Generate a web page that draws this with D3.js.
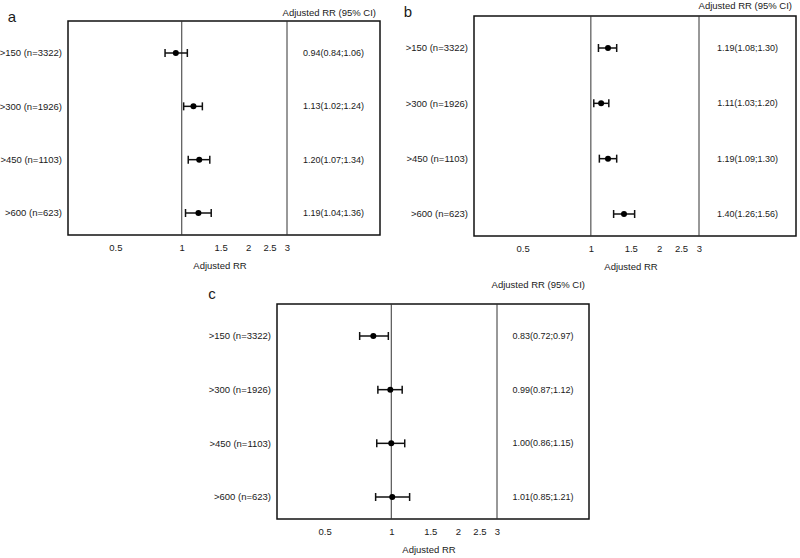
<!DOCTYPE html>
<html>
<head>
<meta charset="utf-8">
<script src="https://cdn.jsdelivr.net/npm/d3@7"></script>
<style>
  body { margin: 0; background: #fff; }
  text { font-family: "Liberation Sans", Arial, sans-serif; fill: #1a1a1a; }
</style>
</head>
<body>
<div id="chart"></div>
<script>
// data
const groups = ['>150 (n=3322)', '>300 (n=1926)', '>450 (n=1103)', '>600 (n=623)'];
const rrA = [0.94, 1.13, 1.20, 1.19];
const lowA = [0.84, 1.02, 1.07, 1.04];
const highA = [1.06, 1.24, 1.34, 1.36];
const rrB = [1.19, 1.11, 1.19, 1.40];
const lowB = [1.08, 1.03, 1.09, 1.26];
const highB = [1.30, 1.20, 1.30, 1.56];
const rrC = [0.83, 0.99, 1.00, 1.01];
const lowC = [0.72, 0.87, 0.86, 0.85];
const highC = [0.97, 1.12, 1.15, 1.21];
const tickValues = [0.5, 1, 1.5, 2, 2.5, 3];
const xMin = 0.305, xMax = 3;

// panel layout (pixels)
const panels = [
	{name: 'a', rr: rrA, low: lowA, high: highA, left: 68, x3: 287, right: 380, top: 21, bottom: 235, headY: 13, labelX: 12, labelY: 17},
	{name: 'b', rr: rrB, low: lowB, high: highB, left: 474, x3: 699, right: 796, top: 16, bottom: 236, headY: 6, labelX: 408, labelY: 12},
	{name: 'c', rr: rrC, low: lowC, high: highC, left: 277, x3: 497, right: 589, top: 304, bottom: 519, headY: 285, labelX: 212, labelY: 294}
];

const width = 800, height = 558;
const fmt = d3.format('.2f');

const svg = d3.select('#chart').append('svg')
	.attr('width', width)
	.attr('height', height);

panels.forEach(p => drawPanel(p));

function drawPanel(p) {
	const g = svg.append('g').attr('class', 'panel-' + p.name);

	const x = d3.scaleLog()
		.domain([xMin, xMax])
		.range([p.left, p.x3]);
	const y = d3.scalePoint()
		.domain(groups)
		.range([p.top + 32, p.bottom - 22]);

	const rows = groups.map((grp, i) => ({grp, rr: p.rr[i], low: p.low[i], high: p.high[i]}));

	// frame
	g.append('rect')
		.attr('x', p.left)
		.attr('y', p.top)
		.attr('width', p.right - p.left)
		.attr('height', p.bottom - p.top)
		.attr('fill', 'none')
		.attr('stroke', '#111')
		.attr('stroke-width', 1.5);

	// reference line at 1 and separator at 3
	g.selectAll('.vline')
		.data([1, 3])
		.enter().append('line')
			.attr('class', 'vline')
			.attr('x1', d => x(d))
			.attr('x2', d => x(d))
			.attr('y1', p.top)
			.attr('y2', p.bottom)
			.attr('stroke', '#333')
			.attr('stroke-width', 1);

	// axis
	const axis = d3.axisBottom(x)
		.tickValues(tickValues)
		.tickFormat(d => d)
		.tickSize(0)
		.tickPadding(9);
	const ax = g.append('g')
		.attr('transform', `translate(0,${p.bottom})`)
		.call(axis);
	ax.select('.domain').remove();
	ax.selectAll('text')
		.attr('font-size', '9.5px')
		.attr('fill', '#1a1a1a')
		.style('font-family', '"Liberation Sans", Arial, sans-serif');

	g.append('text')
		.attr('x', (p.left + p.right) / 2 - 4)
		.attr('y', p.bottom + 34)
		.attr('text-anchor', 'middle')
		.attr('font-size', '9.5px')
		.text('Adjusted RR');

	// header
	g.append('text')
		.attr('x', p.right - 4)
		.attr('y', p.headY)
		.attr('dy', '0.35em')
		.attr('text-anchor', 'end')
		.attr('font-size', '9.5px')
		.text('Adjusted RR (95% CI)');

	// panel letter
	g.append('text')
		.attr('x', p.labelX)
		.attr('y', p.labelY)
		.attr('dy', '0.35em')
		.attr('text-anchor', 'middle')
		.attr('font-size', '15px')
		.text(p.name);

	// row labels
	g.selectAll('.row-label')
		.data(rows)
		.enter().append('text')
			.attr('class', 'row-label')
			.attr('x', p.left - 6)
			.attr('y', d => y(d.grp))
			.attr('dy', '0.35em')
			.attr('text-anchor', 'end')
			.attr('font-size', '9.5px')
			.text(d => d.grp);

	// CI bars
	const ci = g.selectAll('.ci')
		.data(rows)
		.enter().append('g')
			.attr('class', 'ci')
			.attr('stroke', '#111')
			.attr('stroke-width', 1.5);
	ci.append('line')
		.attr('x1', d => x(d.low))
		.attr('x2', d => x(d.high))
		.attr('y1', d => y(d.grp))
		.attr('y2', d => y(d.grp));
	ci.append('line')
		.attr('x1', d => x(d.low))
		.attr('x2', d => x(d.low))
		.attr('y1', d => y(d.grp) - 4)
		.attr('y2', d => y(d.grp) + 4);
	ci.append('line')
		.attr('x1', d => x(d.high))
		.attr('x2', d => x(d.high))
		.attr('y1', d => y(d.grp) - 4)
		.attr('y2', d => y(d.grp) + 4);

	// points
	g.selectAll('.pt')
		.data(rows)
		.enter().append('circle')
			.attr('class', 'pt')
			.attr('cx', d => x(d.rr))
			.attr('cy', d => y(d.grp))
			.attr('r', 3)
			.attr('fill', '#000');

	// values column
	g.selectAll('.val')
		.data(rows)
		.enter().append('text')
			.attr('class', 'val')
			.attr('x', (p.x3 + p.right) / 2)
			.attr('y', d => y(d.grp))
			.attr('dy', '0.35em')
			.attr('text-anchor', 'middle')
			.attr('font-size', '9px')
			.text(d => `${fmt(d.rr)}(${fmt(d.low)};${fmt(d.high)})`);
}
</script>
</body>
</html>
